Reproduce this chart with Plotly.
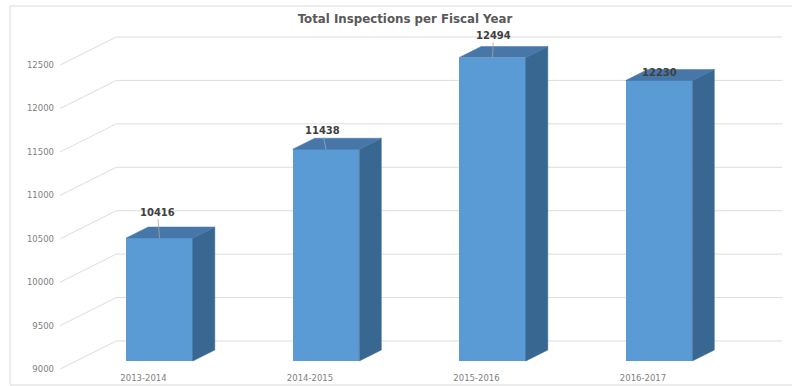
import plotly.graph_objects as go

# ---- data ----
categories = ["2013-2014", "2014-2015", "2015-2016", "2016-2017"]
inspections = [10416, 11438, 12494, 12230]
y_ticks = [9000, 9500, 10000, 10500, 11000, 11500, 12000, 12500]
title_text = "Total Inspections per Fiscal Year"

# ---- geometry for pseudo-3D (oblique projection) ----
W, H = 792, 386
ML, MR, MT, MB = 55, 0, 0, 15
PX_PER_CAT = 166.5          # pixels per category
PX_PER_VAL = 0.08686        # pixels per unit value
X0_PX = 143.5               # pixel of category 0 (front label plane)
Y9000_PX = 369              # pixel of value 9000 (front label plane)
BASE = 9000

plot_w = W - ML - MR
plot_h = H - MT - MB
x_range = [(ML - X0_PX) / PX_PER_CAT, (W - MR - X0_PX) / PX_PER_CAT]
y_range = [BASE - ((H - MB) - Y9000_PX) / PX_PER_VAL,
           BASE + (Y9000_PX - MT) / PX_PER_VAL]


def dep(d):
    """offset (dx in category units, dy in value units) for depth d px"""
    return 2 * d / PX_PER_CAT, d / PX_PER_VAL


FRONT_D, BAR_DEPTH, WALL_D = 8, 11, 28
HALF_W = 0.2
grid_col = "#DDDDDD"
front_col = "#5B9BD5"
top_col = "#4677A8"
side_col = "#386792"

fig = go.Figure()

# gridlines: back wall + diagonal side wall (drawn below the traces)
wx, wy = dep(WALL_D)
for v in y_ticks:
    fig.add_shape(type="line", xref="x", yref="y", x0=-0.5, y0=v,
                  x1=-0.5 + wx, y1=v + wy, layer="below",
                  line=dict(color=grid_col, width=1))
    fig.add_shape(type="line", xref="x", yref="y", x0=-0.5 + wx, y0=v + wy,
                  x1=3.5 + wx, y1=v + wy, layer="below",
                  line=dict(color=grid_col, width=1))

# bars
fx, fy = dep(FRONT_D)
bx, by = dep(BAR_DEPTH)
for i, v in enumerate(inspections):
    xl = i + fx - HALF_W
    xr = i + fx + HALF_W
    yb = BASE + fy
    yt = v + fy
    # side face
    fig.add_trace(go.Scatter(
        x=[xr, xr + bx, xr + bx, xr, xr],
        y=[yb, yb + by, yt + by, yt, yb],
        fill="toself", fillcolor=side_col, mode="lines",
        line=dict(color=side_col, width=0.5),
        hoverinfo="skip", showlegend=False))
    # top face
    fig.add_trace(go.Scatter(
        x=[xl, xr, xr + bx, xl + bx, xl],
        y=[yt, yt, yt + by, yt + by, yt],
        fill="toself", fillcolor=top_col, mode="lines",
        line=dict(color=top_col, width=0.5),
        hoverinfo="skip", showlegend=False))

# front faces as a bar trace
fig.add_trace(go.Bar(
    x=[i + fx for i in range(len(inspections))],
    y=[v - BASE for v in inspections],
    base=[BASE + fy] * len(inspections),
    width=2 * HALF_W,
    marker=dict(color=front_col, line=dict(width=0)),
    hoverinfo="skip", showlegend=False))

# data labels
label_font = dict(family="DejaVu Sans", size=10, color="#404040")
label_offsets = [(-2, -26), (-4, -19), (1, -22), None]
for i, v in enumerate(inspections):
    off = label_offsets[i]
    if off is None:
        fig.add_annotation(x=i + fx, y=v + fy, text="<b>%d</b>" % v,
                           showarrow=False, yshift=8, font=label_font)
    else:
        fig.add_annotation(x=i + fx, y=v + fy, text="<b>%d</b>" % v,
                           showarrow=True, arrowhead=0, arrowwidth=0.8,
                           arrowcolor="#A6A6A6", ax=off[0], ay=off[1], standoff=0,
                           font=label_font)

# outer border
fig.add_shape(type="rect", xref="paper", yref="paper",
              x0=(10 - ML) / plot_w, x1=(W + 5 - ML) / plot_w,
              y0=-(385 - (H - MB)) / plot_h, y1=((H - MB) - 6) / plot_h,
              line=dict(color="#D9D9D9", width=1), layer="below")

fig.update_layout(
    width=W, height=H,
    margin=dict(l=ML, r=MR, t=MT, b=MB),
    paper_bgcolor="white", plot_bgcolor="white",
    title=dict(text="<b>" + title_text + "</b>", x=405 / W, xanchor="center",
               y=1 - 19 / H, yanchor="middle",
               font=dict(family="DejaVu Sans", size=11.8, color="#595959")),
    xaxis=dict(range=x_range, tickvals=list(range(len(categories))),
               ticktext=categories, showgrid=False, zeroline=False,
               showline=False, ticks="",
               tickfont=dict(family="DejaVu Sans", size=8.5, color="#808080")),
    yaxis=dict(range=y_range, tickvals=y_ticks, ticktext=[str(t) for t in y_ticks],
               showgrid=False, zeroline=False, showline=False, ticks="",
               tickfont=dict(family="DejaVu Sans", size=8.5, color="#808080")),
    bargap=0,
)

fig.write_html("out.html")
